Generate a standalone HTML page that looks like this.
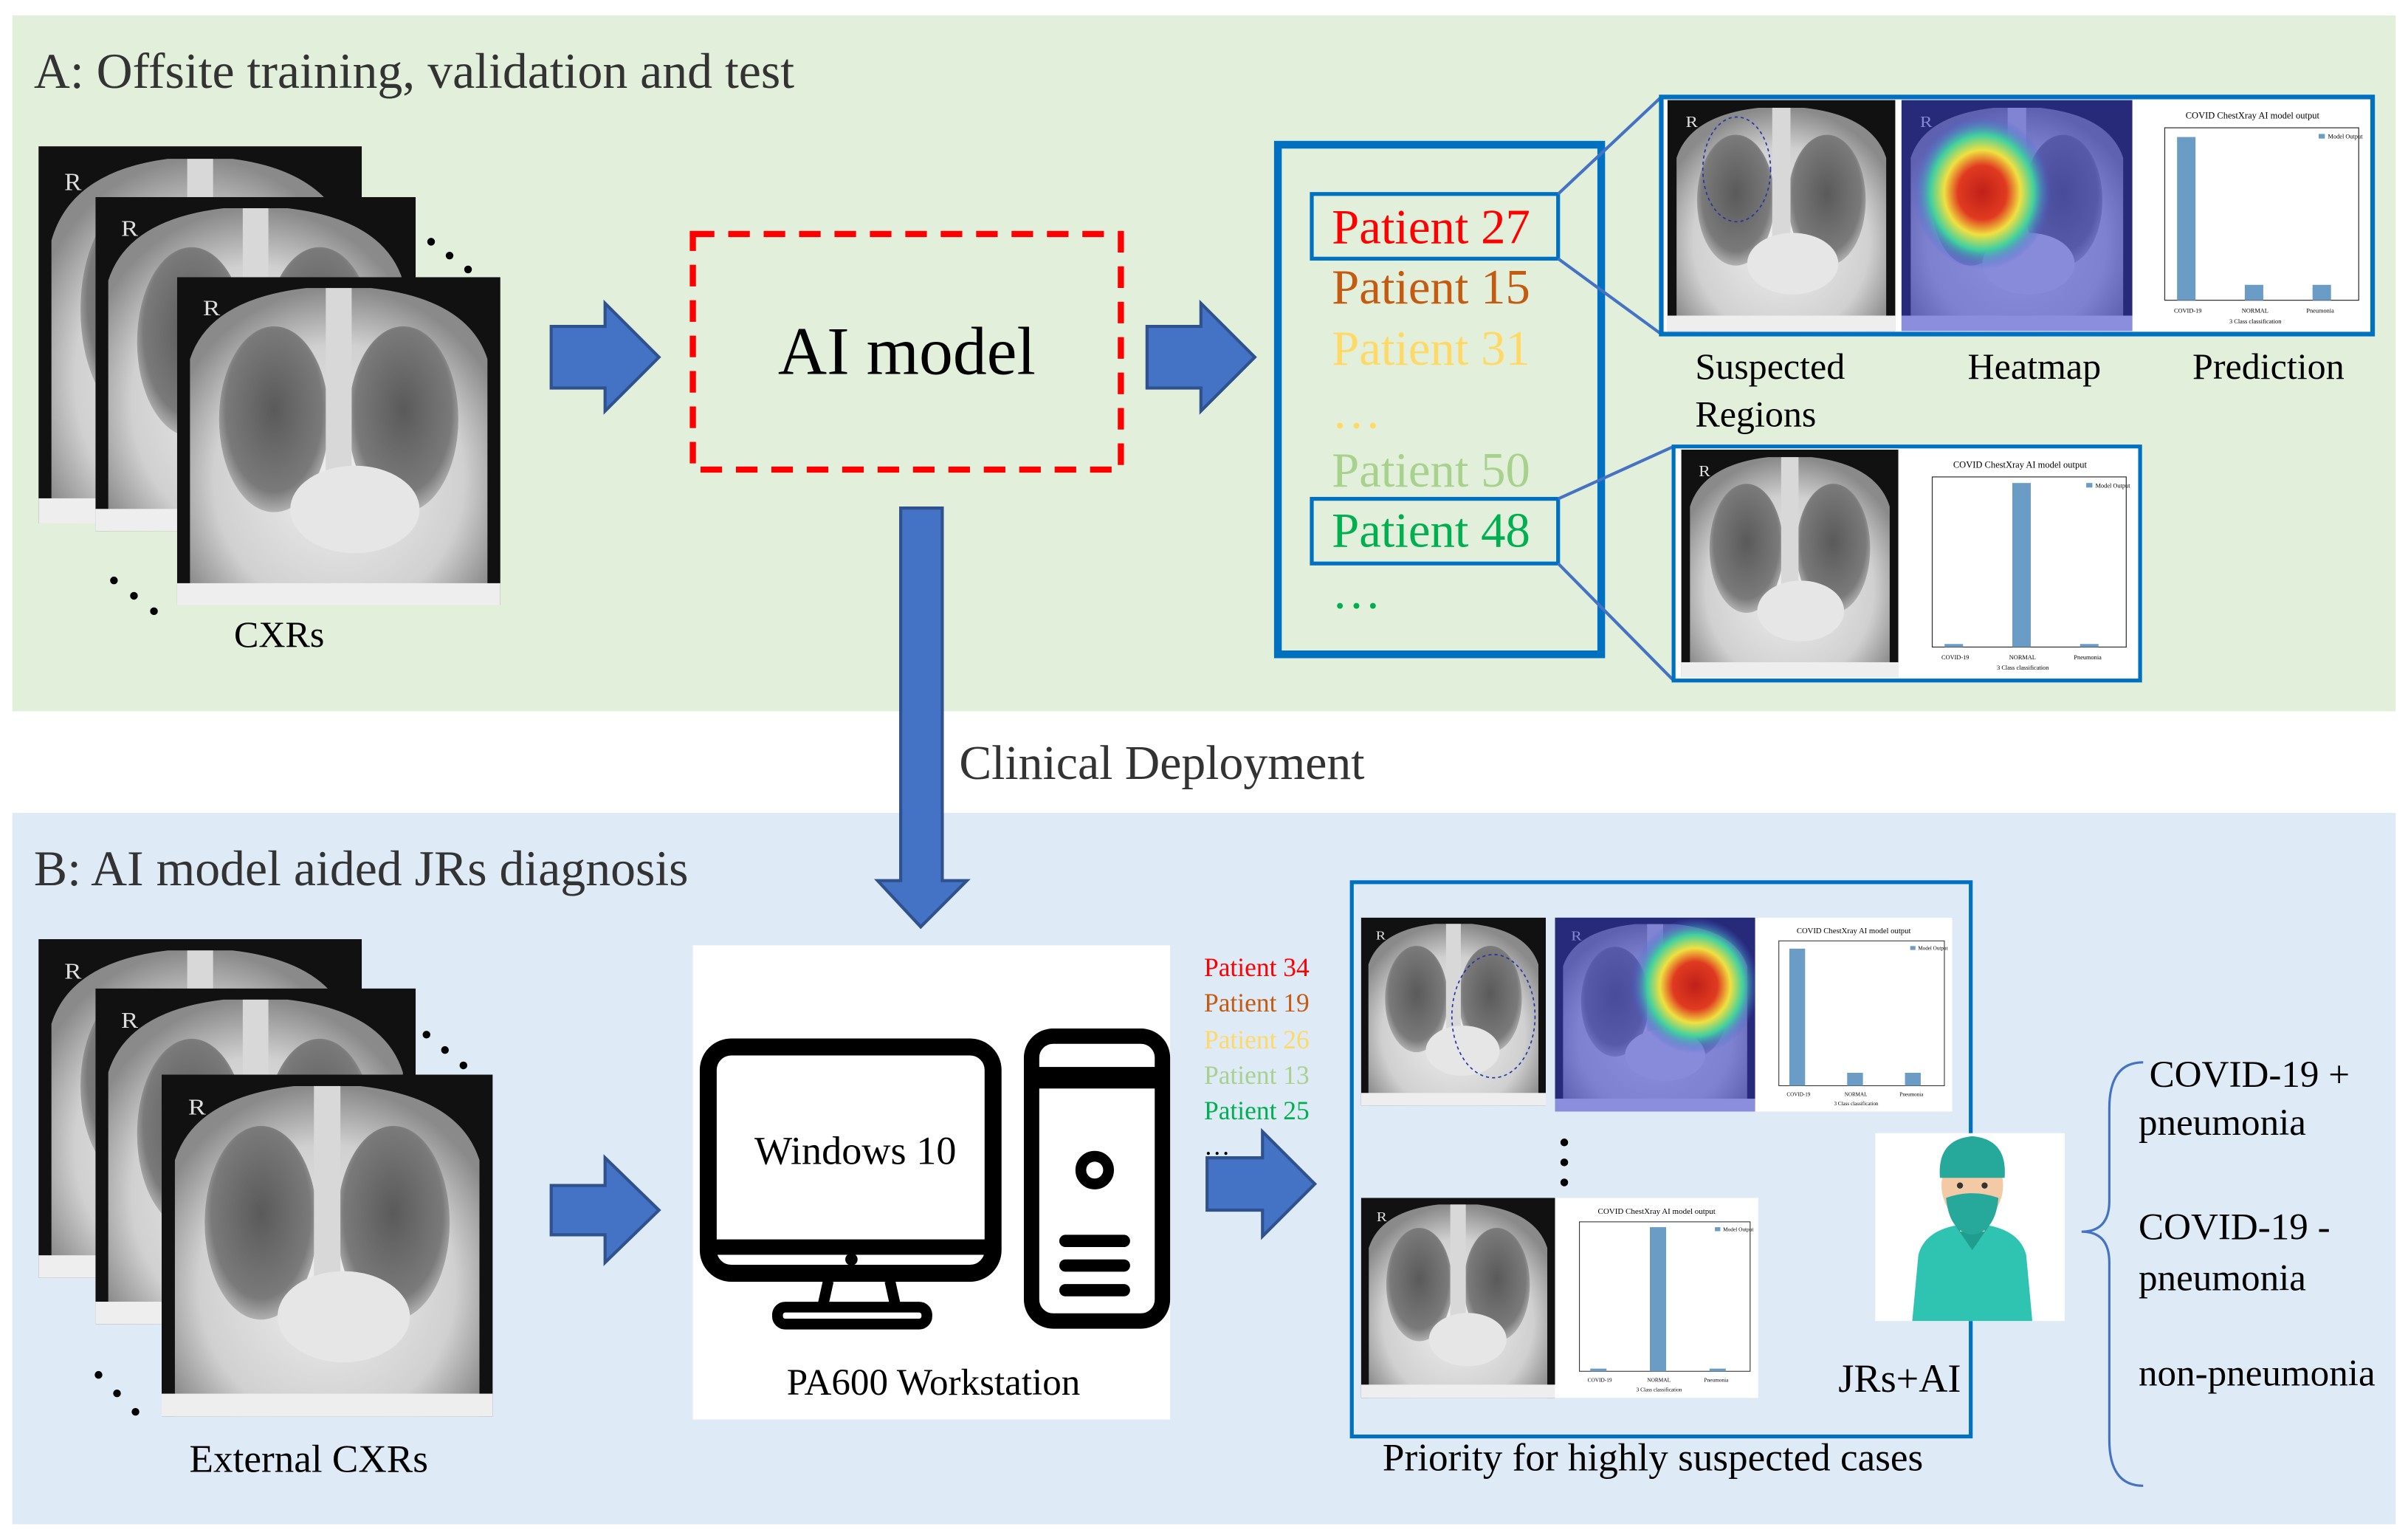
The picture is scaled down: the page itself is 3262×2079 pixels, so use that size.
<!DOCTYPE html>
<html><head><meta charset="utf-8"><style>
html,body{margin:0;padding:0;background:#fff;}
svg{display:block;}
text{font-family:"Liberation Serif",serif;}
</style></head><body>
<svg width="3262" height="2079" viewBox="0 0 1564 997" preserveAspectRatio="none" xmlns="http://www.w3.org/2000/svg">
<defs>
<radialGradient id="body" cx="50%" cy="60%" r="60%"><stop offset="0" stop-color="#f0f0f0"/><stop offset="0.7" stop-color="#d0d0d0"/><stop offset="1" stop-color="#8a8a8a"/></radialGradient>
<radialGradient id="lung" cx="50%" cy="45%" r="55%"><stop offset="0" stop-color="#5a5a5a"/><stop offset="0.8" stop-color="#7a7a7a"/><stop offset="1" stop-color="#b0b0b0"/></radialGradient>
<radialGradient id="heat" cx="50%" cy="50%" r="50%"><stop offset="0" stop-color="#c0201a"/><stop offset="0.35" stop-color="#e03a20"/><stop offset="0.55" stop-color="#f0e040"/><stop offset="0.75" stop-color="#40d0a0"/><stop offset="1" stop-color="#4a5ad8" stop-opacity="0"/></radialGradient>
<symbol id="xr" viewBox="0 0 100 120" preserveAspectRatio="none">
<rect width="100" height="120" fill="#111"/>
<path d="M4,120 L4,30 Q10,8 40,4 L60,4 Q90,8 96,30 L96,120 Z" fill="url(#body)"/>
<ellipse cx="30" cy="52" rx="17" ry="34" fill="url(#lung)"/>
<ellipse cx="70" cy="52" rx="17" ry="34" fill="url(#lung)"/>
<rect x="46" y="4" width="8" height="80" fill="#d8d8d8"/>
<ellipse cx="55" cy="85" rx="20" ry="16" fill="#e6e6e6"/>
<rect x="0" y="112" width="100" height="8" fill="#eee"/>
<text x="8" y="14" font-size="8" fill="#ddd" font-family="Liberation Sans,sans-serif">R</text>
</symbol>
<symbol id="hm" viewBox="0 0 100 120" preserveAspectRatio="none">
<use href="#xr" width="100" height="120"/>
<rect width="100" height="120" fill="#3a3fd0" opacity="0.55"/>
<ellipse cx="35" cy="48" rx="30" ry="40" fill="url(#heat)"/>
</symbol>
<symbol id="hm2" viewBox="0 0 100 120" preserveAspectRatio="none">
<use href="#xr" width="100" height="120"/>
<rect width="100" height="120" fill="#3a3fd0" opacity="0.55"/>
<ellipse cx="70" cy="42" rx="32" ry="42" fill="url(#heat)"/>
</symbol>
<symbol id="ch1" viewBox="0 0 150 150" preserveAspectRatio="none">
<rect width="150" height="150" fill="#fff"/>
<text x="75" y="12" font-size="6" text-anchor="middle" font-family="Liberation Sans,sans-serif">COVID ChestXray AI model output</text>
<rect x="18" y="18" width="126" height="112" fill="none" stroke="#333" stroke-width="0.6"/>
<rect x="26" y="24" width="12" height="106" fill="#6a9cc6"/>
<rect x="70" y="120" width="12" height="10" fill="#6a9cc6"/>
<rect x="114" y="120" width="12" height="10" fill="#6a9cc6"/>
<rect x="118" y="22" width="4" height="3" fill="#6a9cc6"/>
<text x="124" y="25" font-size="4" font-family="Liberation Sans,sans-serif">Model Output</text>
<text x="24" y="138" font-size="4" font-family="Liberation Sans,sans-serif">COVID-19</text>
<text x="68" y="138" font-size="4" font-family="Liberation Sans,sans-serif">NORMAL</text>
<text x="110" y="138" font-size="4" font-family="Liberation Sans,sans-serif">Pneumonia</text>
<text x="60" y="145" font-size="4" font-family="Liberation Sans,sans-serif">3 Class classification</text>
</symbol>
<symbol id="ch2" viewBox="0 0 150 150" preserveAspectRatio="none">
<rect width="150" height="150" fill="#fff"/>
<text x="75" y="12" font-size="6" text-anchor="middle" font-family="Liberation Sans,sans-serif">COVID ChestXray AI model output</text>
<rect x="18" y="18" width="126" height="112" fill="none" stroke="#333" stroke-width="0.6"/>
<rect x="26" y="128" width="12" height="2" fill="#6a9cc6"/>
<rect x="70" y="22" width="12" height="108" fill="#6a9cc6"/>
<rect x="114" y="128" width="12" height="2" fill="#6a9cc6"/>
<rect x="118" y="22" width="4" height="3" fill="#6a9cc6"/>
<text x="124" y="25" font-size="4" font-family="Liberation Sans,sans-serif">Model Output</text>
<text x="24" y="138" font-size="4" font-family="Liberation Sans,sans-serif">COVID-19</text>
<text x="68" y="138" font-size="4" font-family="Liberation Sans,sans-serif">NORMAL</text>
<text x="110" y="138" font-size="4" font-family="Liberation Sans,sans-serif">Pneumonia</text>
<text x="60" y="145" font-size="4" font-family="Liberation Sans,sans-serif">3 Class classification</text>
</symbol>
</defs>

<rect x="8" y="10" width="1548" height="452" fill="#e2efda"/>
<rect x="8" y="528" width="1548" height="462" fill="#deeaf6"/>
<text x="22" y="57" font-size="32.5" fill="#333">A: Offsite training, validation and test</text>
<text x="22" y="575" font-size="32.5" fill="#333">B: AI model aided JRs diagnosis</text>

<use href="#xr" x="25" y="95" width="210" height="245"/>
<use href="#xr" x="62" y="128" width="208" height="217"/>
<use href="#xr" x="115" y="180" width="210" height="213"/>
<g fill="#000"><circle cx="280" cy="157" r="2.5"/><circle cx="292" cy="166" r="2.5"/><circle cx="304" cy="175" r="2.5"/>
<circle cx="74" cy="377" r="2.5"/><circle cx="87" cy="387" r="2.5"/><circle cx="100" cy="397" r="2.5"/></g>
<text x="152" y="420" font-size="24">CXRs</text>

<g fill="#4472c4" stroke="#2f528f" stroke-width="2">
<path d="M358,212 H393 V197 L428,232 L393,267 V252 H358 Z"/>
<path d="M745,212 H780 V197 L815,232 L780,267 V252 H745 Z"/>
<path d="M585,330 H612 V572 H628 L598,602 L570,572 H585 Z"/>
<path d="M358,770 H393 V752 L428,786 L393,820 V802 H358 Z"/>
<path d="M784,752 H820 V735 L854,769 L820,803 V786 H784 Z"/>
</g>

<rect x="450" y="152" width="278" height="153" fill="none" stroke="#ff0000" stroke-width="4" stroke-dasharray="14,9"/>
<text x="589" y="243" font-size="44" text-anchor="middle">AI model</text>

<rect x="830" y="94" width="210" height="331" fill="none" stroke="#0070c0" stroke-width="5"/>
<g font-size="32">
<text x="865" y="158" fill="#ff0000">Patient 27</text>
<text x="865" y="197" fill="#c55a11">Patient 15</text>
<text x="865" y="237" fill="#ffd966">Patient 31</text>
<text x="865" y="278" fill="#ffd966">…</text>
<text x="865" y="316" fill="#a9d18e">Patient 50</text>
<text x="865" y="355" fill="#00b050">Patient 48</text>
<text x="865" y="395" fill="#00b050">…</text>
</g>
<rect x="852" y="126" width="160" height="42" fill="none" stroke="#0070c0" stroke-width="2.5"/>
<rect x="852" y="324" width="160" height="42" fill="none" stroke="#0070c0" stroke-width="2.5"/>
<g stroke="#4472c4" stroke-width="2">
<line x1="1012" y1="126" x2="1079" y2="63"/><line x1="1012" y1="168" x2="1079" y2="217"/>
<line x1="1012" y1="324" x2="1087" y2="290"/><line x1="1012" y1="366" x2="1087" y2="442"/>
</g>
<rect x="1079" y="63" width="462" height="154" fill="#fff"/>
<use href="#xr" x="1083" y="65" width="148" height="150"/>
<ellipse cx="1128" cy="110" rx="22" ry="34" fill="none" stroke="#2233aa" stroke-width="0.8" stroke-dasharray="2,2"/>
<use href="#hm" x="1235" y="65" width="150" height="150"/>
<use href="#ch1" x="1388" y="65" width="150" height="150"/>
<rect x="1079" y="63" width="462" height="154" fill="none" stroke="#0070c0" stroke-width="3"/>
<g font-size="24">
<text x="1101" y="246">Suspected</text><text x="1101" y="277">Regions</text>
<text x="1278" y="246">Heatmap</text><text x="1424" y="246">Prediction</text>
</g>
<rect x="1087" y="290" width="303" height="152" fill="#fff"/>
<use href="#xr" x="1092" y="292" width="141" height="148"/>
<use href="#ch2" x="1237" y="292" width="150" height="148"/>
<rect x="1087" y="290" width="303" height="152" fill="none" stroke="#0070c0" stroke-width="2.5"/>

<text x="623" y="506" font-size="31.5" fill="#333">Clinical Deployment</text>

<use href="#xr" x="25" y="610" width="210" height="220"/>
<use href="#xr" x="62" y="642" width="208" height="218"/>
<use href="#xr" x="105" y="698" width="215" height="222"/>
<g fill="#000"><circle cx="277" cy="672" r="2.5"/><circle cx="289" cy="682" r="2.5"/><circle cx="301" cy="692" r="2.5"/>
<circle cx="64" cy="893" r="2.5"/><circle cx="76" cy="905" r="2.5"/><circle cx="88" cy="917" r="2.5"/></g>
<text x="123" y="956" font-size="25.5">External CXRs</text>

<rect x="450" y="614" width="310" height="308" fill="#fff"/>
<rect x="460" y="680" width="185" height="147" rx="15" fill="none" stroke="#000" stroke-width="11"/>
<line x1="460" y1="810" x2="645" y2="810" stroke="#000" stroke-width="10"/>
<circle cx="553" cy="818" r="4" fill="#000"/>
<path d="M538,832 L534,850 M578,832 L582,850" stroke="#000" stroke-width="7"/>
<rect x="505" y="849" width="97" height="11" rx="5" fill="none" stroke="#000" stroke-width="7"/>
<rect x="670" y="673" width="85" height="185" rx="14" fill="none" stroke="#000" stroke-width="10"/>
<rect x="670" y="693" width="85" height="14" fill="#000"/>
<circle cx="711" cy="760" r="9" fill="none" stroke="#000" stroke-width="7"/>
<g stroke="#000" stroke-width="8" stroke-linecap="round"><line x1="692" y1="806" x2="730" y2="806"/><line x1="692" y1="822" x2="730" y2="822"/><line x1="692" y1="838" x2="730" y2="838"/></g>
<text x="490" y="756" font-size="26">Windows 10</text>
<text x="511" y="906" font-size="24.5">PA600 Workstation</text>

<g font-size="17">
<text x="782" y="634" fill="#ff0000">Patient 34</text>
<text x="782" y="657" fill="#c55a11">Patient 19</text>
<text x="782" y="681" fill="#ffd966">Patient 26</text>
<text x="782" y="704" fill="#a9d18e">Patient 13</text>
<text x="782" y="727" fill="#00b050">Patient 25</text>
<text x="782" y="750" fill="#000">…</text>
</g>

<rect x="878" y="573" width="402" height="360" fill="none" stroke="#0070c0" stroke-width="2.5"/>
<use href="#xr" x="884" y="596" width="120" height="122"/>
<ellipse cx="970" cy="660" rx="27" ry="40" fill="none" stroke="#2233aa" stroke-width="0.8" stroke-dasharray="2,2"/>
<use href="#hm2" x="1010" y="596" width="130" height="126"/>
<use href="#ch1" x="1140" y="596" width="128" height="126"/>
<g fill="#000"><circle cx="1016" cy="742" r="2.5"/><circle cx="1016" cy="755" r="2.5"/><circle cx="1016" cy="768" r="2.5"/></g>
<use href="#xr" x="884" y="778" width="126" height="130"/>
<use href="#ch2" x="1010" y="778" width="132" height="130"/>
<rect x="1218" y="736" width="123" height="122" fill="#fff"/>
<path d="M1242,858 L1246,815 Q1250,800 1270,796 L1292,796 Q1312,800 1316,815 L1320,858 Z" fill="#2fc4b2"/>
<path d="M1270,796 L1281,812 L1292,796 Z" fill="#1f9e8f"/>
<rect x="1273" y="780" width="16" height="20" fill="#f3c9a6"/>
<ellipse cx="1281" cy="770" rx="20" ry="24" fill="#f3c9a6"/>
<path d="M1260,765 Q1258,740 1281,738 Q1304,740 1302,765 Z" fill="#26a89a"/>
<path d="M1264,778 Q1281,772 1298,778 Q1296,800 1281,802 Q1266,800 1264,778 Z" fill="#26a89a"/>
<circle cx="1273" cy="770" r="2" fill="#333"/><circle cx="1289" cy="770" r="2" fill="#333"/>
<text x="1194" y="904" font-size="26">JRs+AI</text>
<text x="898" y="955" font-size="25.5">Priority for highly suspected cases</text>

<path d="M1392,690 Q1370,690 1370,720 L1370,780 Q1370,800 1352,800 Q1370,800 1370,820 L1370,935 Q1370,965 1392,965" fill="none" stroke="#4472c4" stroke-width="1.5"/>
<g font-size="24.5">
<text x="1396" y="706">COVID-19 +</text>
<text x="1389" y="737">pneumonia</text>
<text x="1389" y="805">COVID-19 -</text>
<text x="1389" y="838">pneumonia</text>
<text x="1389" y="900">non-pneumonia</text>
</g>
</svg>
</body></html>
